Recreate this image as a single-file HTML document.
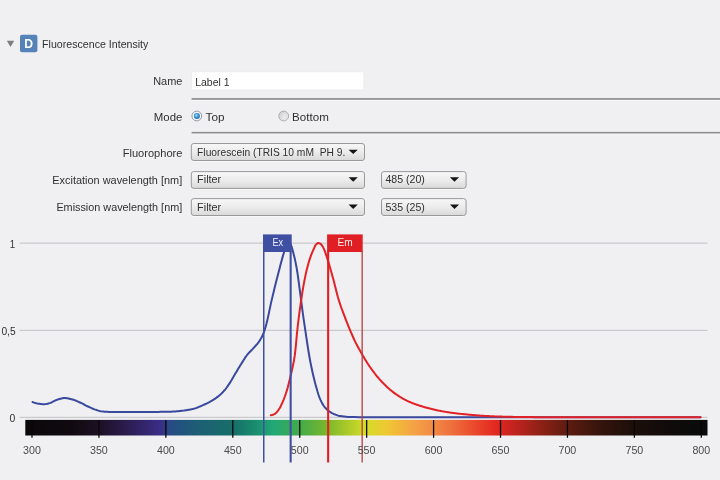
<!DOCTYPE html>
<html><head><meta charset="utf-8"><title>Fluorescence Intensity</title>
<style>
html,body{margin:0;padding:0}
body{width:720px;height:480px;overflow:hidden;background:#f0f0f2}
svg{display:block}
svg text{font-family:"Liberation Sans",sans-serif}
</style></head><body>
<svg width="720" height="480" viewBox="0 0 720 480">
<defs>
<linearGradient id="sp" x1="0" x2="1" y1="0" y2="0"><stop offset="0.0098" stop-color="#0b080a"/><stop offset="0.0687" stop-color="#100a10"/><stop offset="0.1079" stop-color="#1c1024"/><stop offset="0.1570" stop-color="#2e1f58"/><stop offset="0.1962" stop-color="#3a2c85"/><stop offset="0.2060" stop-color="#2f3a86"/><stop offset="0.2100" stop-color="#284a86"/><stop offset="0.2257" stop-color="#22527f"/><stop offset="0.2551" stop-color="#1d5f74"/><stop offset="0.3041" stop-color="#176e68"/><stop offset="0.3336" stop-color="#188a6e"/><stop offset="0.3630" stop-color="#22a777"/><stop offset="0.4023" stop-color="#42ab4a"/><stop offset="0.4415" stop-color="#7ab62c"/><stop offset="0.4709" stop-color="#a8ca28"/><stop offset="0.5004" stop-color="#d6dc2a"/><stop offset="0.5298" stop-color="#efc732"/><stop offset="0.5690" stop-color="#f4a244"/><stop offset="0.5985" stop-color="#f18a44"/><stop offset="0.6279" stop-color="#ee6c3c"/><stop offset="0.6573" stop-color="#ea4a2c"/><stop offset="0.6868" stop-color="#e42a22"/><stop offset="0.7064" stop-color="#cf2420"/><stop offset="0.7456" stop-color="#9a2218"/><stop offset="0.7947" stop-color="#5e1c10"/><stop offset="0.8437" stop-color="#34140c"/><stop offset="0.8928" stop-color="#1c0e0a"/><stop offset="0.9419" stop-color="#100b0a"/><stop offset="0.9909" stop-color="#0a0a0a"/></linearGradient>
<linearGradient id="dd" x1="0" x2="0" y1="0" y2="1"><stop offset="0" stop-color="#f7f7f7"/><stop offset="0.5" stop-color="#ececec"/><stop offset="1" stop-color="#d9d9d9"/></linearGradient>
<radialGradient id="ron" cx="0.42" cy="0.38" r="0.6"><stop offset="0" stop-color="#c4ecfb"/><stop offset="0.45" stop-color="#3ba0dc"/><stop offset="1" stop-color="#1d68ad"/></radialGradient>
<linearGradient id="roff" x1="0" x2="1" y1="0" y2="1"><stop offset="0" stop-color="#cfcfcf"/><stop offset="1" stop-color="#fafafa"/></linearGradient>
</defs>
<rect width="720" height="480" fill="#f0f0f2"/>
<!-- header -->
<path d="M6.8,40.7 h7.4 l-3.7,6.4 z" fill="#7d7d7d"/>
<rect x="20" y="34.7" width="17.4" height="17.6" rx="2" fill="#5683b7"/>
<text x="24.3" y="48.3" font-size="13" font-weight="bold" fill="#fff" textLength="8.8" lengthAdjust="spacingAndGlyphs">D</text>
<!-- name box -->
<rect x="191.8" y="71.9" width="172" height="18.1" fill="#fff" stroke="#e8e8ea" stroke-width="0.6"/>
<!-- rules -->
<rect x="191.6" y="98.1" width="528.4" height="1.8" fill="#8e8e8e"/><rect x="191.6" y="99.9" width="528.4" height="0.9" fill="#fbfbfb"/>
<rect x="191.6" y="131.9" width="528.4" height="1.8" fill="#8e8e8e"/><rect x="191.6" y="133.7" width="528.4" height="0.9" fill="#fbfbfb"/>
<!-- radios -->
<circle cx="196.8" cy="116" r="4.9" fill="#f1f4f7" stroke="#8b9097" stroke-width="0.9"/>
<circle cx="196.9" cy="116.1" r="3" fill="url(#ron)"/>
<circle cx="283.7" cy="116" r="4.9" fill="url(#roff)" stroke="#a4a4a6" stroke-width="0.9"/>
<circle cx="283.7" cy="116" r="3.4" fill="none" stroke="#d4d4d6" stroke-width="0.7"/>
<!-- dropdowns -->
<rect x="191.3" y="144.4" width="173.2" height="17.0" rx="2.5" fill="none" stroke="#f9f9f9" stroke-width="1"/><rect x="191.3" y="143.5" width="173.2" height="17.0" rx="2.5" fill="url(#dd)" stroke="#999" stroke-width="1"/><path d="M348.6,149.7 h9.2 l-4.6,4.4 z" fill="#151515"/>
<rect x="191.3" y="172.5" width="173.2" height="16.8" rx="2.5" fill="none" stroke="#f9f9f9" stroke-width="1"/><rect x="191.3" y="171.6" width="173.2" height="16.8" rx="2.5" fill="url(#dd)" stroke="#999" stroke-width="1"/><path d="M348.6,177.3 h9.2 l-4.6,4.4 z" fill="#151515"/>
<rect x="191.3" y="199.5" width="173.2" height="16.9" rx="2.5" fill="none" stroke="#f9f9f9" stroke-width="1"/><rect x="191.3" y="198.6" width="173.2" height="16.9" rx="2.5" fill="url(#dd)" stroke="#999" stroke-width="1"/><path d="M348.6,204.6 h9.2 l-4.6,4.4 z" fill="#151515"/>
<rect x="381.5" y="172.5" width="84.6" height="16.8" rx="2.5" fill="none" stroke="#f9f9f9" stroke-width="1"/><rect x="381.5" y="171.6" width="84.6" height="16.8" rx="2.5" fill="url(#dd)" stroke="#999" stroke-width="1"/><path d="M449.9,177.3 h9.2 l-4.6,4.4 z" fill="#151515"/>
<rect x="381.5" y="199.5" width="84.6" height="16.9" rx="2.5" fill="none" stroke="#f9f9f9" stroke-width="1"/><rect x="381.5" y="198.6" width="84.6" height="16.9" rx="2.5" fill="url(#dd)" stroke="#999" stroke-width="1"/><path d="M449.9,204.6 h9.2 l-4.6,4.4 z" fill="#151515"/>

<!-- chart -->
<g stroke="#cacace" stroke-width="1.4">
<line x1="19.6" x2="707.5" y1="243.1" y2="243.1"/><line x1="19.6" x2="707.5" y1="330.4" y2="330.4"/><line x1="19.6" x2="707.5" y1="417.4" y2="417.4"/>
</g>
<rect x="25.3" y="419.9" width="682.2" height="15.6" fill="url(#sp)"/>
<rect x="31.38" y="420" width="1.25" height="17.8" fill="#080606"/><rect x="98.31" y="420" width="1.25" height="17.8" fill="#080606"/><rect x="165.24" y="420" width="1.25" height="17.8" fill="#080606"/><rect x="232.17" y="420" width="1.25" height="17.8" fill="#080606"/><rect x="299.10" y="420" width="1.25" height="17.8" fill="#080606"/><rect x="366.03" y="420" width="1.25" height="17.8" fill="#080606"/><rect x="432.96" y="420" width="1.25" height="17.8" fill="#080606"/><rect x="499.89" y="420" width="1.25" height="17.8" fill="#080606"/><rect x="566.82" y="420" width="1.25" height="17.8" fill="#080606"/><rect x="633.75" y="420" width="1.25" height="17.8" fill="#080606"/><rect x="700.68" y="420" width="1.25" height="17.8" fill="#080606"/>
<path d="M32.5,402.00 L33.5,402.37 L34.5,402.71 L35.5,403.02 L36.5,403.29 L37.5,403.51 L38.5,403.68 L39.5,403.84 L40.5,403.99 L41.5,404.12 L42.5,404.21 L43.5,404.25 L44.5,404.22 L45.5,404.11 L46.5,403.92 L47.5,403.69 L48.5,403.42 L49.5,403.14 L50.5,402.84 L51.5,402.45 L52.5,401.96 L53.5,401.43 L54.5,400.90 L55.5,400.40 L56.5,399.97 L57.5,399.64 L58.5,399.31 L59.5,398.98 L60.5,398.68 L61.5,398.41 L62.5,398.19 L63.5,398.05 L64.5,398.00 L65.5,398.04 L66.5,398.13 L67.5,398.28 L68.5,398.48 L69.5,398.70 L70.5,398.93 L71.5,399.18 L72.5,399.43 L73.5,399.73 L74.5,400.09 L75.5,400.49 L76.5,400.91 L77.5,401.36 L78.5,401.82 L79.5,402.28 L80.5,402.73 L81.5,403.20 L82.5,403.71 L83.5,404.22 L84.5,404.75 L85.5,405.27 L86.5,405.78 L87.5,406.27 L88.5,406.73 L89.5,407.20 L90.5,407.66 L91.5,408.11 L92.5,408.55 L93.5,408.96 L94.5,409.33 L95.5,409.67 L96.5,410.00 L97.5,410.33 L98.5,410.65 L99.5,410.94 L100.5,411.18 L101.5,411.37 L102.5,411.50 L103.5,411.59 L104.5,411.67 L105.5,411.74 L106.5,411.81 L107.5,411.87 L108.5,411.92 L109.5,411.96 L110.5,411.98 L150.5,411.96 L153.5,411.94 L156.5,411.91 L158.5,411.89 L160.5,411.86 L162.5,411.83 L164.5,411.80 L166.5,411.77 L168.5,411.73 L169.5,411.71 L170.5,411.69 L171.5,411.65 L172.5,411.61 L173.5,411.55 L174.5,411.48 L175.5,411.40 L176.5,411.32 L177.5,411.23 L178.5,411.14 L179.5,411.05 L180.5,410.95 L181.5,410.85 L182.5,410.74 L183.5,410.62 L184.5,410.48 L185.5,410.34 L186.5,410.19 L187.5,410.03 L188.5,409.86 L189.5,409.68 L190.5,409.49 L191.5,409.28 L192.5,409.06 L193.5,408.81 L194.5,408.52 L195.5,408.20 L196.5,407.85 L197.5,407.47 L198.5,407.08 L199.5,406.67 L200.5,406.25 L201.5,405.82 L202.5,405.38 L203.5,404.93 L204.5,404.49 L205.5,404.03 L206.5,403.55 L207.5,403.06 L208.5,402.55 L209.5,402.02 L210.5,401.47 L211.5,400.90 L212.5,400.30 L213.5,399.68 L214.5,399.04 L215.5,398.37 L216.5,397.66 L217.5,396.91 L218.5,396.12 L219.5,395.27 L220.5,394.38 L221.5,393.44 L222.5,392.45 L223.5,391.41 L224.5,390.29 L225.5,389.05 L226.5,387.73 L227.5,386.33 L228.5,384.88 L229.5,383.40 L230.5,381.85 L231.5,380.20 L232.5,378.49 L233.5,376.75 L234.5,375.02 L235.5,373.33 L236.5,371.66 L237.5,369.99 L238.5,368.32 L239.5,366.66 L240.5,365.04 L241.5,363.44 L242.5,361.85 L243.5,360.25 L244.5,358.68 L245.5,357.17 L246.5,355.75 L247.5,354.45 L248.5,353.29 L249.5,352.22 L250.5,351.20 L251.5,350.20 L252.5,349.17 L253.5,348.08 L254.5,346.98 L255.5,345.89 L256.5,344.77 L257.5,343.58 L258.5,342.29 L259.5,340.85 L260.5,339.26 L261.5,337.48 L262.5,335.47 L263.5,333.17 L264.5,330.36 L265.5,327.10 L266.5,323.52 L267.5,319.40 L268.5,314.86 L269.5,310.12 L270.5,305.38 L271.5,300.86 L272.5,296.62 L273.5,292.45 L274.5,288.34 L275.5,284.30 L276.5,280.31 L277.5,276.39 L278.5,272.53 L279.5,268.66 L280.5,264.80 L281.5,261.02 L282.5,257.38 L283.5,253.94 L284.5,250.76 L285.5,247.65 L286.5,245.30 L287.5,243.69 L288.5,243.00 L289.5,243.30 L290.5,244.00 L291.5,246.32 L292.5,249.88 L293.5,253.52 L294.5,257.53 L295.5,262.09 L296.5,267.21 L297.5,273.22 L298.5,280.37 L299.5,287.97 L300.5,295.43 L301.5,303.11 L302.5,310.80 L303.5,318.12 L304.5,324.97 L305.5,331.63 L306.5,338.35 L307.5,344.99 L308.5,351.37 L309.5,357.28 L310.5,362.59 L311.5,367.54 L312.5,372.18 L313.5,376.52 L314.5,380.58 L315.5,384.38 L316.5,388.07 L317.5,391.56 L318.5,394.76 L319.5,397.54 L320.5,399.87 L321.5,401.97 L322.5,403.86 L323.5,405.52 L324.5,406.91 L325.5,408.04 L326.5,409.04 L327.5,409.95 L328.5,410.78 L329.5,411.52 L330.5,412.18 L331.5,412.78 L332.5,413.30 L333.5,413.78 L334.5,414.24 L335.5,414.67 L336.5,415.06 L337.5,415.41 L338.5,415.69 L339.5,415.92 L340.5,416.07 L341.5,416.22 L342.5,416.35 L343.5,416.48 L344.5,416.59 L345.5,416.70 L346.5,416.80 L347.5,416.88 L348.5,416.95 L349.5,417.01 L350.5,417.06 L351.5,417.09 L354.5,417.11 L359.5,417.13 L365.5,417.15 L373.5,417.17 L387.5,417.20 L700.5,417.20" fill="none" stroke="#3a489d" stroke-width="2" stroke-linejoin="round" stroke-linecap="round"/>
<path d="M270.8,415.20 L271.8,415.08 L272.8,414.78 L273.8,414.33 L274.8,413.81 L275.8,413.14 L276.8,412.13 L277.8,410.88 L278.8,409.49 L279.8,407.93 L280.8,406.05 L281.8,403.94 L282.8,401.67 L283.8,399.26 L284.8,396.62 L285.8,393.75 L286.8,390.63 L287.8,387.18 L288.8,383.36 L289.8,379.25 L290.8,374.94 L291.8,370.65 L292.8,366.30 L293.8,361.39 L294.8,355.38 L295.8,346.37 L296.8,335.04 L297.8,325.59 L298.8,317.35 L299.8,309.76 L300.8,302.61 L301.8,295.85 L302.8,289.59 L303.8,283.94 L304.8,278.71 L305.8,273.91 L306.8,269.59 L307.8,265.67 L308.8,262.10 L309.8,258.90 L310.8,256.05 L311.8,253.48 L312.8,251.12 L313.8,248.85 L314.8,246.57 L315.8,244.83 L316.8,243.81 L317.8,243.11 L318.8,243.06 L319.8,243.45 L320.8,244.04 L321.8,245.12 L322.8,246.67 L323.8,248.64 L324.8,251.17 L325.8,253.91 L326.8,256.91 L327.8,260.08 L328.8,263.34 L329.8,266.72 L330.8,270.22 L331.8,273.81 L332.8,277.44 L333.8,281.11 L334.8,284.98 L335.8,288.97 L336.8,292.94 L337.8,296.72 L338.8,300.16 L339.8,303.29 L340.8,306.22 L341.8,309.02 L342.8,311.71 L343.8,314.35 L344.8,316.97 L345.8,319.59 L346.8,322.15 L347.8,324.66 L348.8,327.12 L349.8,329.53 L350.8,331.89 L351.8,334.22 L352.8,336.51 L353.8,338.72 L354.8,340.84 L355.8,342.86 L356.8,344.81 L357.8,346.70 L358.8,348.54 L359.8,350.34 L360.8,352.10 L361.8,353.84 L362.8,355.55 L363.8,357.25 L364.8,358.93 L365.8,360.58 L366.8,362.18 L367.8,363.75 L368.8,365.26 L369.8,366.72 L370.8,368.12 L371.8,369.51 L372.8,370.86 L373.8,372.20 L374.8,373.50 L375.8,374.78 L376.8,376.03 L377.8,377.25 L378.8,378.43 L379.8,379.58 L380.8,380.69 L381.8,381.77 L382.8,382.81 L383.8,383.82 L384.8,384.81 L385.8,385.78 L386.8,386.72 L387.8,387.64 L388.8,388.54 L389.8,389.41 L390.8,390.25 L391.8,391.07 L392.8,391.86 L393.8,392.62 L394.8,393.36 L395.8,394.07 L396.8,394.76 L397.8,395.44 L398.8,396.10 L399.8,396.74 L400.8,397.36 L401.8,397.97 L402.8,398.55 L403.8,399.11 L404.8,399.66 L405.8,400.17 L406.8,400.67 L407.8,401.14 L408.8,401.59 L409.8,402.02 L410.8,402.44 L411.8,402.85 L412.8,403.24 L413.8,403.62 L414.8,403.98 L415.8,404.34 L416.8,404.69 L417.8,405.03 L418.8,405.36 L419.8,405.69 L420.8,406.01 L421.8,406.32 L422.8,406.63 L423.8,406.93 L424.8,407.22 L425.8,407.51 L426.8,407.79 L427.8,408.07 L428.8,408.33 L429.8,408.59 L430.8,408.84 L431.8,409.08 L432.8,409.32 L433.8,409.55 L434.8,409.77 L435.8,409.99 L436.8,410.21 L437.8,410.41 L438.8,410.62 L439.8,410.81 L440.8,411.01 L441.8,411.19 L442.8,411.37 L443.8,411.55 L444.8,411.72 L445.8,411.88 L446.8,412.04 L447.8,412.20 L448.8,412.35 L449.8,412.49 L450.8,412.64 L451.8,412.78 L452.8,412.91 L453.8,413.04 L454.8,413.17 L455.8,413.30 L456.8,413.42 L457.8,413.53 L458.8,413.65 L459.8,413.76 L460.8,413.87 L461.8,413.97 L462.8,414.07 L463.8,414.17 L464.8,414.27 L465.8,414.37 L466.8,414.46 L467.8,414.55 L468.8,414.64 L469.8,414.73 L470.8,414.82 L471.8,414.91 L472.8,415.00 L473.8,415.08 L474.8,415.17 L475.8,415.25 L476.8,415.34 L477.8,415.41 L478.8,415.49 L479.8,415.57 L480.8,415.64 L481.8,415.70 L482.8,415.77 L483.8,415.83 L484.8,415.89 L485.8,415.95 L486.8,416.01 L487.8,416.07 L488.8,416.12 L489.8,416.18 L490.8,416.22 L491.8,416.27 L492.8,416.32 L493.8,416.36 L494.8,416.39 L495.8,416.43 L496.8,416.46 L497.8,416.49 L498.8,416.53 L499.8,416.56 L500.8,416.59 L501.8,416.62 L502.8,416.65 L503.8,416.68 L504.8,416.70 L505.8,416.73 L506.8,416.76 L507.8,416.78 L508.8,416.81 L509.8,416.83 L510.8,416.85 L511.8,416.87 L513.8,416.91 L515.8,416.94 L517.8,416.97 L519.8,417.00 L521.8,417.02 L523.8,417.04 L525.8,417.06 L528.8,417.09 L531.8,417.11 L534.8,417.14 L537.8,417.16 L541.8,417.18 L700.5,417.20" fill="none" stroke="#e22126" stroke-width="2" stroke-linejoin="round" stroke-linecap="round"/>
<rect x="263" y="234.4" width="28.7" height="17.6" fill="#3f50a3"/>
<rect x="263" y="251" width="1.5" height="211.5" fill="#3f50a3"/>
<rect x="289.6" y="251" width="2.1" height="211.5" fill="#3f50a3"/>
<rect x="327.1" y="234.4" width="35.6" height="17.6" fill="#e01f24"/>
<rect x="327.1" y="251" width="2.1" height="211.5" fill="#e01f24"/>
<rect x="361.5" y="251" width="1.3" height="211.5" fill="#b93c3e"/>
<text x="42.1" y="48.4" font-size="11.5" fill="#303030" textLength="106.3" lengthAdjust="spacingAndGlyphs">Fluorescence Intensity</text>
<text x="153.2" y="85.3" font-size="11.5" fill="#303030" textLength="29.2" lengthAdjust="spacingAndGlyphs">Name</text>
<text x="195.2" y="85.6" font-size="11.5" fill="#303030" textLength="34.3" lengthAdjust="spacingAndGlyphs">Label 1</text>
<text x="153.8" y="120.9" font-size="11.5" fill="#303030" textLength="28.6" lengthAdjust="spacingAndGlyphs">Mode</text>
<text x="205.6" y="120.9" font-size="11.5" fill="#303030" textLength="19.0" lengthAdjust="spacingAndGlyphs">Top</text>
<text x="292.1" y="120.9" font-size="11.5" fill="#303030" textLength="36.7" lengthAdjust="spacingAndGlyphs">Bottom</text>
<text x="122.7" y="156.7" font-size="11.5" fill="#303030" textLength="59.7" lengthAdjust="spacingAndGlyphs">Fluorophore</text>
<text x="197.1" y="155.9" font-size="11.5" fill="#303030" textLength="148.2" lengthAdjust="spacingAndGlyphs">Fluorescein (TRIS 10 mM&#160; PH 9.</text>
<text x="52.3" y="184.0" font-size="11.5" fill="#303030" textLength="129.9" lengthAdjust="spacingAndGlyphs">Excitation wavelength [nm]</text>
<text x="197.1" y="183.4" font-size="11.5" fill="#303030" textLength="24.1" lengthAdjust="spacingAndGlyphs">Filter</text>
<text x="385.4" y="183.4" font-size="11.5" fill="#303030" textLength="39.4" lengthAdjust="spacingAndGlyphs">485 (20)</text>
<text x="56.4" y="211.3" font-size="11.5" fill="#303030" textLength="125.8" lengthAdjust="spacingAndGlyphs">Emission wavelength [nm]</text>
<text x="197.1" y="210.5" font-size="11.5" fill="#303030" textLength="24.1" lengthAdjust="spacingAndGlyphs">Filter</text>
<text x="385.4" y="210.6" font-size="11.5" fill="#303030" textLength="39.4" lengthAdjust="spacingAndGlyphs">535 (25)</text>
<text x="9.7" y="248.0" font-size="11" fill="#303030" textLength="5.4" lengthAdjust="spacingAndGlyphs">1</text>
<text x="1.4" y="334.5" font-size="11" fill="#303030" textLength="14.2" lengthAdjust="spacingAndGlyphs">0,5</text>
<text x="9.6" y="421.7" font-size="11" fill="#303030" textLength="5.8" lengthAdjust="spacingAndGlyphs">0</text>
<text x="23.1" y="454.0" font-size="11" fill="#4a4a4a" textLength="17.8" lengthAdjust="spacingAndGlyphs">300</text>
<text x="90.0" y="454.0" font-size="11" fill="#4a4a4a" textLength="17.8" lengthAdjust="spacingAndGlyphs">350</text>
<text x="157.0" y="454.0" font-size="11" fill="#4a4a4a" textLength="17.8" lengthAdjust="spacingAndGlyphs">400</text>
<text x="223.9" y="454.0" font-size="11" fill="#4a4a4a" textLength="17.8" lengthAdjust="spacingAndGlyphs">450</text>
<text x="290.8" y="454.0" font-size="11" fill="#4a4a4a" textLength="17.8" lengthAdjust="spacingAndGlyphs">500</text>
<text x="357.7" y="454.0" font-size="11" fill="#4a4a4a" textLength="17.8" lengthAdjust="spacingAndGlyphs">550</text>
<text x="424.7" y="454.0" font-size="11" fill="#4a4a4a" textLength="17.8" lengthAdjust="spacingAndGlyphs">600</text>
<text x="491.6" y="454.0" font-size="11" fill="#4a4a4a" textLength="17.8" lengthAdjust="spacingAndGlyphs">650</text>
<text x="558.5" y="454.0" font-size="11" fill="#4a4a4a" textLength="17.8" lengthAdjust="spacingAndGlyphs">700</text>
<text x="625.5" y="454.0" font-size="11" fill="#4a4a4a" textLength="17.8" lengthAdjust="spacingAndGlyphs">750</text>
<text x="692.4" y="454.0" font-size="11" fill="#4a4a4a" textLength="17.8" lengthAdjust="spacingAndGlyphs">800</text>
<text x="272.4" y="245.8" font-size="10" fill="#eef0fa" textLength="10.7" lengthAdjust="spacingAndGlyphs">Ex</text>
<text x="337.4" y="245.8" font-size="10" fill="#fdeeee" textLength="15.2" lengthAdjust="spacingAndGlyphs">Em</text>

</svg>
</body></html>
